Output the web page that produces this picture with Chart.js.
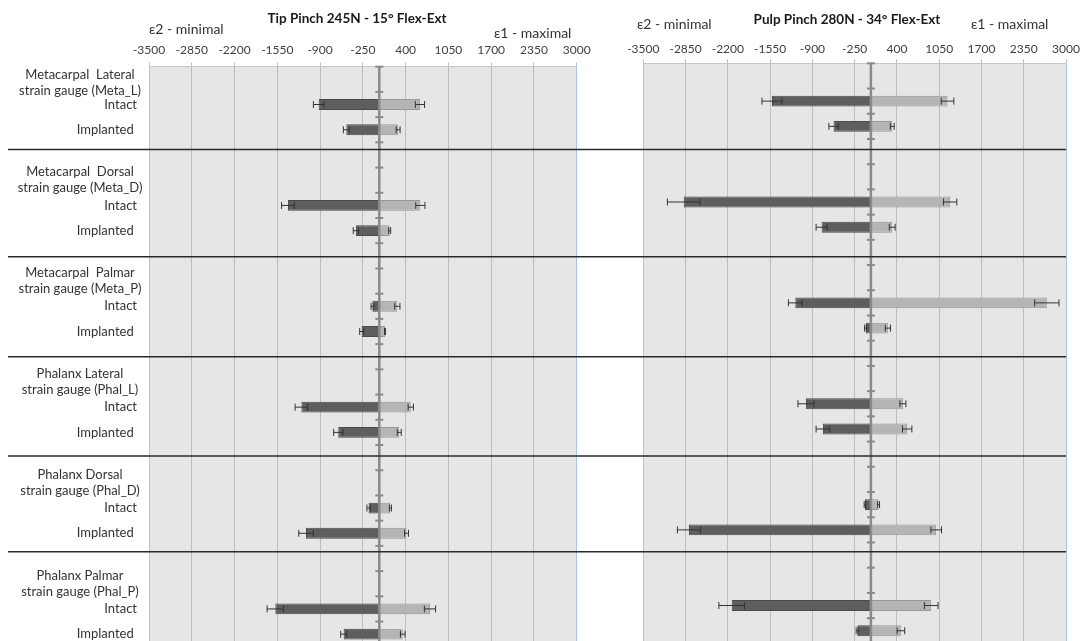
<!DOCTYPE html>
<html><head><meta charset="utf-8">
<script src="https://cdn.jsdelivr.net/npm/chart.js@4"></script>
<style>
html,body{margin:0;padding:0;background:#fff;overflow:hidden;width:1088px;height:641px;}
#wrapL{position:absolute;left:0;top:0;width:600px;height:680px;}
#wrapR{position:absolute;left:600px;top:0;width:488px;height:680px;}
canvas{display:block;}
</style></head><body>
<div id="wrapL"><canvas id="cL" width="600" height="680"></canvas></div>
<div id="wrapR"><canvas id="cR" width="488" height="680"></canvas></div>
<script>
// ---------- data ----------
const gaugeTitles = [
  ["Metacarpal  Lateral", "strain gauge (Meta_L)"],
  ["Metacarpal  Dorsal", "strain gauge (Meta_D)"],
  ["Metacarpal  Palmar", "strain gauge (Meta_P)"],
  ["Phalanx Lateral", "strain gauge (Phal_L)"],
  ["Phalanx Dorsal", "strain gauge (Phal_D)"],
  ["Phalanx Palmar", "strain gauge (Phal_P)"]
];
const conditions = ["Intact", "Implanted "];
const seriesNames = ["ε2 - minimal", "ε1 - maximal"];
const panelTitles = ["Tip Pinch 245N - 15° Flex-Ext", "Pulp Pinch 280N - 34° Flex-Ext"];
const xTickValues = [-3500, -2850, -2200, -1550, -900, -250, 400, 1050, 1700, 2350, 3000];

// order per gauge: Intact, Implanted
const tipMin     = [-921, -501, -1388, -356, -105, -268, -1184, -624, -163, -1114, -1580, -542];
const tipMinErr  = [80, 45, 97, 40, 20, 30, 95, 70, 25, 110, 125, 45];
const tipMax     = [618, 286, 624, 157, 274, 87, 478, 303, 169, 414, 770, 356];
const tipMaxErr  = [70, 30, 70, 15, 40, 6, 40, 30, 15, 30, 85, 35];

const pulpMin    = [-1521, -574, -2879, -758, -1163, -82, -999, -738, -92, -2797, -2141, -210];
const pulpMinErr = [154, 72, 251, 85, 105, 15, 123, 105, 12, 179, 197, 17];
const pulpMax    = [1178, 328, 1219, 328, 2705, 261, 492, 558, 118, 1004, 927, 461];
const pulpMaxErr = [97, 30, 102, 45, 187, 40, 46, 72, 15, 82, 105, 59];

// ---------- rows ----------
const rowLabels = [];
gaugeTitles.forEach((t, g) => {
  rowLabels.push(t, conditions[0], conditions[1]);
  if (g < gaugeTitles.length - 1) rowLabels.push("");
});
function toRows(values) {
  const out = [];
  gaugeTitles.forEach((t, g) => {
    out.push(null, values[2 * g], values[2 * g + 1]);
    if (g < gaugeTitles.length - 1) out.push(null);
  });
  return out;
}

// ---------- styling ----------
const FONT = "Lato, 'Open Sans', sans-serif";
const SEPARATORS = [2.78, 7.04, 11.0, 14.94, 18.73]; // in left-panel row units
const panelCfg = {};

const panelPlugin = {
  id: 'panelDeco',
  beforeDraw(chart) {
    const a = chart.chartArea, ctx = chart.ctx;
    ctx.save();
    ctx.fillStyle = '#e6e6e6';
    ctx.fillRect(a.left, a.top, a.right - a.left, a.bottom - a.top);
    ctx.restore();
  },
  afterDatasetsDraw(chart) {
    const o = panelCfg[chart.canvas.id];
    const ctx = chart.ctx, x = chart.scales.x, y = chart.scales.y, a = chart.chartArea;
    const x0 = x.getPixelForValue(0);
    ctx.save();
    // central category axis
    ctx.strokeStyle = '#8a8a8a';
    ctx.lineWidth = 2.5;
    ctx.beginPath(); ctx.moveTo(x0, a.top); ctx.lineTo(x0, a.bottom); ctx.stroke();
    ctx.lineWidth = 2;
    for (let k = 0; k <= rowLabels.length; k++) {
      const yb = y.getPixelForValue(k - 0.5);
      ctx.beginPath(); ctx.moveTo(x0 - 4, yb); ctx.lineTo(x0 + 4, yb); ctx.stroke();
    }
    // error bars
    ctx.strokeStyle = '#333';
    ctx.lineWidth = 1;
    const errs = [toRows(o.minErr), toRows(o.maxErr)];
    errs.forEach((errRows, di) => {
      const vals = chart.data.datasets[di].data;
      vals.forEach((v, r) => {
        if (v === null) return;
        const e = errRows[r];
        const yc = y.getPixelForValue(r);
        const xl = x.getPixelForValue(v - e), xr = x.getPixelForValue(v + e);
        ctx.beginPath();
        ctx.moveTo(xl, yc); ctx.lineTo(xr, yc);
        ctx.moveTo(xl, yc - 3.5); ctx.lineTo(xl, yc + 3.5);
        ctx.moveTo(xr, yc - 3.5); ctx.lineTo(xr, yc + 3.5);
        ctx.stroke();
      });
    });
    ctx.restore();
  },
  afterDraw(chart) {
    const o = panelCfg[chart.canvas.id];
    const ctx = chart.ctx, y = chart.scales.y, a = chart.chartArea;
    ctx.save();
    // group separators
    ctx.strokeStyle = '#2a2a2a';
    ctx.lineWidth = 1.5;
    const sepTo = o.sepToArea ? a.right : chart.width;
    SEPARATORS.forEach(s => {
      const yy = y.getPixelForValue(s + o.rowShift);
      ctx.beginPath(); ctx.moveTo(o.sepFrom, yy); ctx.lineTo(sepTo, yy); ctx.stroke();
    });
    // title
    ctx.fillStyle = '#1a1a1a';
    ctx.textBaseline = 'middle';
    ctx.textAlign = 'center';
    ctx.font = 'bold 13.5px ' + FONT;
    ctx.fillText(o.title, o.titlePos[0], o.titlePos[1]);
    // series captions
    ctx.fillStyle = '#333';
    ctx.textAlign = 'left';
    ctx.font = '14px ' + FONT;
    ctx.fillText(seriesNames[0], o.minPos[0], o.minPos[1]);
    ctx.fillText(seriesNames[1], o.maxPos[0], o.maxPos[1]);
    // gauge titles (two centred lines)
    if (o.showY) {
      ctx.textAlign = 'center';
      ctx.font = '13px ' + FONT;
      rowLabels.forEach((lab, r) => {
        if (!Array.isArray(lab)) return;
        const yc = Math.max(y.getPixelForValue(r), a.top + 16);
        ctx.fillText(lab[0], 80, yc - 8);
        ctx.fillText(lab[1], 80, yc + 8);
      });
    }
    ctx.restore();
  }
};

function makePanel(id, cfg) {
  panelCfg[id] = cfg;
  return new Chart(document.getElementById(id), {
    type: 'bar',
    data: {
      labels: rowLabels,
      datasets: [
        { label: seriesNames[0], data: toRows(cfg.min), backgroundColor: '#5e5e5e',
          borderColor: '#4a4a4a', borderWidth: 1, barPercentage: 0.43, categoryPercentage: 1.0 },
        { label: seriesNames[1], data: toRows(cfg.max), backgroundColor: '#b5b5b5',
          borderColor: '#979797', borderWidth: 1, barPercentage: 0.43, categoryPercentage: 1.0 }
      ]
    },
    options: {
      indexAxis: 'y',
      responsive: false,
      animation: false,
      events: [],
      layout: { padding: cfg.padding },
      scales: {
        x: {
          type: 'linear', position: 'top', stacked: true,
          min: -3500, max: 3000,
          afterBuildTicks: s => { s.ticks = xTickValues.map(v => ({ value: v })); },
          afterFit: s => { s.height = cfg.axisH; },
          grid: {
            color: c => (c.index === 0 || c.index === xTickValues.length - 1) ? '#a9c5e8' : '#bdbdbd',
            lineWidth: 1, tickLength: 4, drawTicks: true
          },
          border: { display: true, color: '#c6c6c6' },
          ticks: { color: '#404040', font: { family: FONT, size: 12 }, padding: cfg.tickPad,
                   maxRotation: 0, autoSkip: false, callback: v => String(v) }
        },
        y: {
          type: 'category', stacked: true, display: cfg.showY,
          afterFit: s => { if (cfg.showY) s.width = 149; },
          grid: { display: false, drawTicks: false },
          border: { display: false },
          ticks: {
            color: '#333', font: { family: FONT, size: 13 }, padding: 12, autoSkip: false,
            callback: (v, i) => (typeof rowLabels[i] === 'string') ? rowLabels[i] : ''
          }
        }
      },
      plugins: { legend: { display: false }, tooltip: { enabled: false } }
    },
    plugins: [panelPlugin]
  });
}

makePanel('cL', {
  min: tipMin, max: tipMax, minErr: tipMinErr, maxErr: tipMaxErr,
  padding: { left: 0, right: 23.3, top: 0, bottom: 33.24 },
  axisH: 66.7, tickPad: 5, showY: true,
  title: panelTitles[0], titlePos: [357, 18.3], minPos: [149, 29.3], maxPos: [494, 33.3],
  rowShift: 0, sepFrom: 8, sepToArea: false
});
makePanel('cR', {
  min: pulpMin, max: pulpMax, minErr: pulpMinErr, maxErr: pulpMaxErr,
  padding: { left: 43.3, right: 22, top: 0, bottom: 36.64 },
  axisH: 63.3, tickPad: 3, showY: false,
  title: panelTitles[1], titlePos: [247, 20], minPos: [37, 24], maxPos: [371, 24],
  rowShift: (66.7 - 63.3) / 25.22, sepFrom: 0, sepToArea: true
});
</script>
</body></html>
